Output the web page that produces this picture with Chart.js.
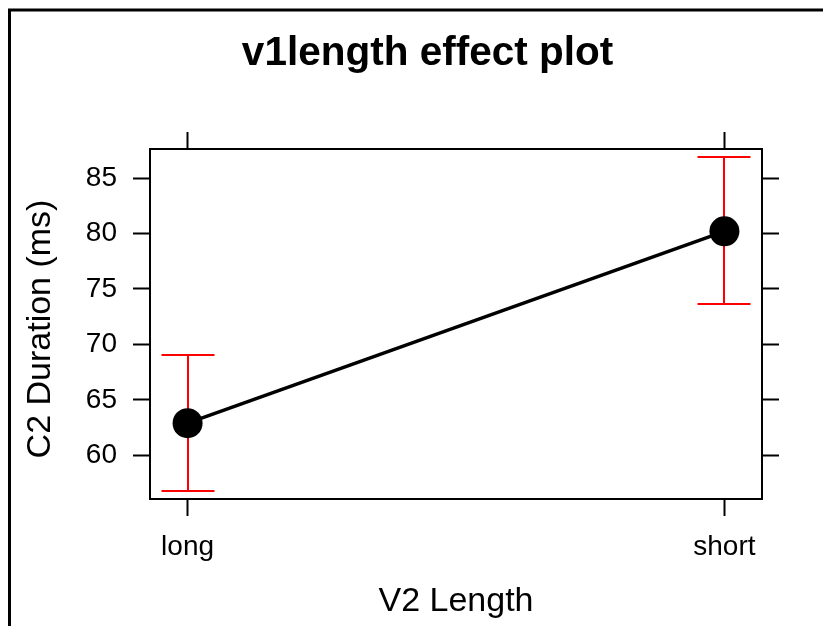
<!DOCTYPE html>
<html>
<head>
<meta charset="utf-8">
<title>v1length effect plot</title>
<script src="https://cdn.jsdelivr.net/npm/chart.js@4/dist/chart.umd.min.js"></script>
<style>
  html, body { margin: 0; padding: 0; background: #ffffff; }
  canvas { display: block; }
</style>
</head>
<body>
<canvas id="effectChart" width="823" height="626"></canvas>
<script>
// Factor levels of V2 length and the fitted effect with its confidence band
const categories = ['long', 'short'];
const effects = [62.9, 80.2];
const lowerCI = [56.8, 73.6];
const upperCI = [69.0, 86.9];
const yTicks = [60, 65, 70, 75, 80, 85];
const levelIndex = [1, 2];

const FONT = '"Liberation Sans", Arial, Helvetica, sans-serif';
Chart.defaults.font.family = FONT;
Chart.defaults.color = '#000000';

// Page frame, main heading and the vertical axis label
const framePlugin = {
  id: 'frame',
  beforeDraw(chart) {
    const ctx = chart.ctx;
    ctx.save();
    ctx.fillStyle = '#ffffff';
    ctx.fillRect(0, 0, chart.width, chart.height);
    ctx.strokeStyle = '#000000';
    ctx.lineWidth = 3;
    ctx.beginPath();
    ctx.moveTo(9.5, chart.height);
    ctx.lineTo(9.5, 10);
    ctx.lineTo(chart.width, 10);
    ctx.stroke();
    ctx.fillStyle = '#000000';
    ctx.font = 'bold 40.5px ' + FONT;
    ctx.textAlign = 'center';
    ctx.textBaseline = 'alphabetic';
    ctx.fillText('v1length effect plot', 427.5, 65);

    ctx.translate(41, 329);
    ctx.rotate(-Math.PI / 2);
    ctx.font = '34px ' + FONT;
    ctx.textBaseline = 'middle';
    ctx.fillText('C2 Duration (ms)', 0, 0);
    ctx.restore();
  }
};

// Red confidence interval bars with caps, drawn under the line and points
const errorBarPlugin = {
  id: 'errorBars',
  beforeDatasetsDraw(chart) {
    const ctx = chart.ctx;
    const xs = chart.scales.x;
    const ys = chart.scales.y;
    const cap = 26.5;
    ctx.save();
    ctx.strokeStyle = '#ff0000';
    ctx.lineWidth = 2;
    levelIndex.forEach((lv, i) => {
      const px = Math.round(xs.getPixelForValue(lv));
      const yLo = Math.round(ys.getPixelForValue(lowerCI[i]));
      const yHi = Math.round(ys.getPixelForValue(upperCI[i]));
      ctx.beginPath();
      ctx.moveTo(px, yLo);
      ctx.lineTo(px, yHi);
      ctx.moveTo(px - cap, yHi);
      ctx.lineTo(px + cap, yHi);
      ctx.moveTo(px - cap, yLo);
      ctx.lineTo(px + cap, yLo);
      ctx.stroke();
    });
    ctx.restore();
  }
};

const axisGrid = {
  drawOnChartArea: false,
  drawTicks: true,
  tickLength: 17,
  tickWidth: 2,
  tickColor: '#000000'
};
const axisBorder = { display: true, color: '#000000', width: 2 };
const setLevelTicks = s => { s.ticks = levelIndex.map(v => ({ value: v })); };
const setYTicks = s => { s.ticks = yTicks.map(v => ({ value: v })); };

new Chart(document.getElementById('effectChart'), {
  type: 'line',
  data: {
    datasets: [{
      data: levelIndex.map((lv, i) => ({ x: lv, y: effects[i] })),
      borderColor: '#000000',
      borderWidth: 3.5,
      pointRadius: 15,
      pointHoverRadius: 15,
      pointBackgroundColor: '#000000',
      pointBorderWidth: 0,
      tension: 0,
      clip: false
    }]
  },
  options: {
    responsive: false,
    devicePixelRatio: 1,
    animation: false,
    events: [],
    layout: { padding: { top: 132, right: 44, bottom: 0, left: 0 } },
    plugins: {
      legend: { display: false },
      tooltip: { enabled: false },
      title: { display: false }
    },
    scales: {
      x: {
        type: 'linear',
        position: 'bottom',
        min: 0.93,
        max: 2.07,
        afterBuildTicks: setLevelTicks,
        afterFit: s => { s.height = 127; },
        ticks: {
          callback: v => categories[Math.round(v) - 1],
          font: { size: 28 },
          color: '#000000',
          padding: 14,
          maxRotation: 0,
          autoSkip: false
        },
        grid: axisGrid,
        border: axisBorder,
        title: {
          display: true,
          text: 'V2 Length',
          font: { size: 34 },
          color: '#000000',
          padding: { top: 0, bottom: 4 }
        }
      },
      x2: {
        type: 'linear',
        position: 'top',
        min: 0.93,
        max: 2.07,
        afterBuildTicks: setLevelTicks,
        afterFit: s => { s.height = 17; },
        ticks: { display: false },
        grid: axisGrid,
        border: axisBorder
      },
      y: {
        type: 'linear',
        position: 'left',
        min: 56.06,
        max: 87.62,
        afterBuildTicks: setYTicks,
        afterFit: s => { s.width = 150; },
        ticks: {
          font: { size: 28 },
          color: '#000000',
          padding: 16
        },
        grid: axisGrid,
        border: axisBorder
      },
      y2: {
        type: 'linear',
        position: 'right',
        min: 56.06,
        max: 87.62,
        afterBuildTicks: setYTicks,
        afterFit: s => { s.width = 17; },
        ticks: { display: false },
        grid: axisGrid,
        border: axisBorder
      }
    }
  },
  plugins: [framePlugin, errorBarPlugin]
});
</script>
</body>
</html>
